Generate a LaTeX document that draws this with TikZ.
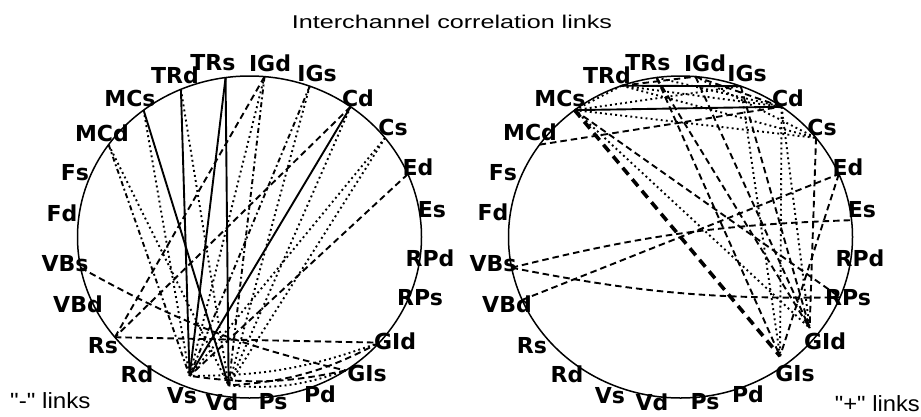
\documentclass[tikz,border=0pt]{standalone}
\usepackage{fontspec}
\setmainfont{DejaVu Sans}
\newfontfamily\titlefont{Liberation Sans}
\usetikzlibrary{calc}
\begin{document}
\begin{tikzpicture}[x=1pt,y=-1pt,
  lab/.style={font=\bfseries\fontsize{22}{22}\selectfont, inner sep=0pt},
  rim/.style={line width=1.5pt},
  lk/.style={line width=1.9pt},
  dotlk/.style={lk, dash pattern=on 1.9pt off 3.2pt},
  dashlk/.style={lk, dash pattern=on 6.5pt off 4pt},
  dashdotlk/.style={lk, dash pattern=on 5pt off 3pt on 1.9pt off 3pt},
  thickdash/.style={line width=3.6pt, dash pattern=on 9pt off 6pt}]
\useasboundingbox (0,0) rectangle (921,416);
\fill[white] (0,0) rectangle (921,416);

% title and captions
\node[inner sep=0pt] (title) at (452,22) {\titlefont\fontsize{18.5}{18.5}\selectfont\scalebox{1.36}[1]{Interchannel correlation links}};
\node[inner sep=0pt, anchor=west] (minus) at (10,401) {\titlefont\fontsize{22}{22}\selectfont\scalebox{1.1}[1]{"-" links}};
\node[inner sep=0pt, anchor=east] (plus) at (920,404) {\titlefont\fontsize{22}{22}\selectfont\scalebox{1.08}[1]{"+" links}};

% heads
\draw[rim] (249.5,237) ellipse [x radius=172, y radius=161];
\draw[rim] (680.5,237) ellipse [x radius=172, y radius=161];

% electrode points (left head)
\foreach \n/\a/\f in {Es/6/1, Ed/23/1, Cs/38/1, Cd/54/1, IGs/69.5/1, IGd/85/1, TRs/98/1, TRd/113.5/1,
  MCs/128/1, MCd/145/1, Fs/155.5/1, Fd/175/1, VBs/191/1, VBd/203/1, Rs/218.5/1, Rd/231.5/1,
  Vs/248/0.93, Vd/262.5/0.93, Ps/274/1, Pd/287/1, GIs/304/1, GId/319/1, RPs/338/1, RPd/352/1}{
  \coordinate (L\n) at ({249.5+172*\f*cos(\a)},{237-161*\f*sin(\a)});
}
% electrode points (right head)
\foreach \n/\a/\f in {Es/6/1, Ed/23/1, Cs/38/1, Cd/54/1, IGs/69.5/1, IGd/85/1, TRs/98/1, TRd/110/1,
  MCs/128/1, MCd/145/1, Fs/155.5/1, Fd/175/1, VBs/191/1, VBd/203/1, Rs/218.5/1, Rd/231.5/1,
  Vs/248/1, Vd/262.5/1, Ps/274/1, Pd/287/1, GIs/308/0.94, GId/323/0.94, RPs/338/1, RPd/352/1}{
  \coordinate (R\n) at ({680.5+172*\f*cos(\a)},{237-161*\f*sin(\a)});
}

% labels
\foreach \n/\x/\y in {TRs/213/63, IGd/270/63, TRd/175/75, IGs/317/73, MCs/130/98, Cd/358/98,
  MCd/102/133, Cs/393/127, Fs/75/173, Ed/418/167, Fd/62/213, Es/432/210, VBs/65/264, RPd/430/258,
  VBd/78/304, RPs/420/298, Rs/103/346, GId/395/341, Rd/137/374, GIs/367/373, Vs/182/396,
  Pd/320/394, Vd/222/402, Ps/273/402}{
  \node[lab] (labL\n) at (\x,\y) {\n};
}
\foreach \n/\x/\y in {TRs/648/63, IGd/705/63, TRd/607/75, IGs/747/73, MCs/560/98, Cd/788/98,
  MCd/530/132, Cs/822/127, Fs/503/173, Ed/848/167, Fd/493/212, Es/862/210, VBs/493/264, RPd/860/258,
  VBd/507/304, RPs/848/298, Rs/532/346, GId/825/341, Rd/567/374, GIs/795/373, Vs/610/396,
  Pd/748/394, Vd/652/402, Ps/705/402}{
  \node[lab] (labR\n) at (\x,\y) {\n};
}

% ---- "-" links (left head)
\foreach \a/\b in {TRs/Vd, TRd/Vs, TRs/Vs, MCs/Vd, Cd/Vs}{\draw[lk] (L\a) -- (L\b);}
\foreach \a/\b in {TRd/Vd, MCs/Vs, IGd/Vs, IGs/Vd, Cs/Vs, Cs/Vd, MCd/Vd, Cd/Vd}{\draw[dotlk] (L\a) -- (L\b);}
\foreach \a/\b in {Cd/Rs, IGd/Rs, Rs/GId, Ed/Vs}{\draw[dashlk] (L\a) -- (L\b);}
\foreach \a/\b in {MCd/Vs, IGd/Vd, IGs/Vs}{\draw[dashdotlk] (L\a) -- (L\b);}
\draw[dashlk] (LVBs) to[bend right=8] (LGIs);
\draw[dashlk] (LGId) to[bend left=12] (LVd);
\draw[dashlk] (LGIs) to[bend left=10] (LVs);
\draw[dotlk] (LGId) to[bend left=10] (LVs);
\draw[dotlk] (LGIs) to[bend left=12] (LVd);

% ---- "+" links (right head)
\foreach \a/\b in {MCs/Cd, TRd/IGs}{\draw[lk] (R\a) -- (R\b);}
\draw[thickdash] (RMCs) -- (RGIs);
\foreach \a/\b in {MCs/GId, MCs/Cs, MCs/TRd, MCs/IGs, TRd/Cd, IGd/Cs, Cd/GIs, Cd/GId, IGs/GIs, TRs/Cd, TRd/Cs}{\draw[dotlk] (R\a) -- (R\b);}
\foreach \a/\b in {MCd/Cd, TRd/IGd, TRs/GId, IGd/GId, IGs/GId, Cs/GId, VBd/Ed, MCs/RPs, Ed/GIs, TRs/GIs, IGd/Cd}{\draw[dashlk] (R\a) -- (R\b);}
\draw[dashlk] (RVBs) to[bend right=6] (RRPs);
\draw[dashlk] (RVBs) to[bend left=6] (REs);
\end{tikzpicture}
\end{document}
